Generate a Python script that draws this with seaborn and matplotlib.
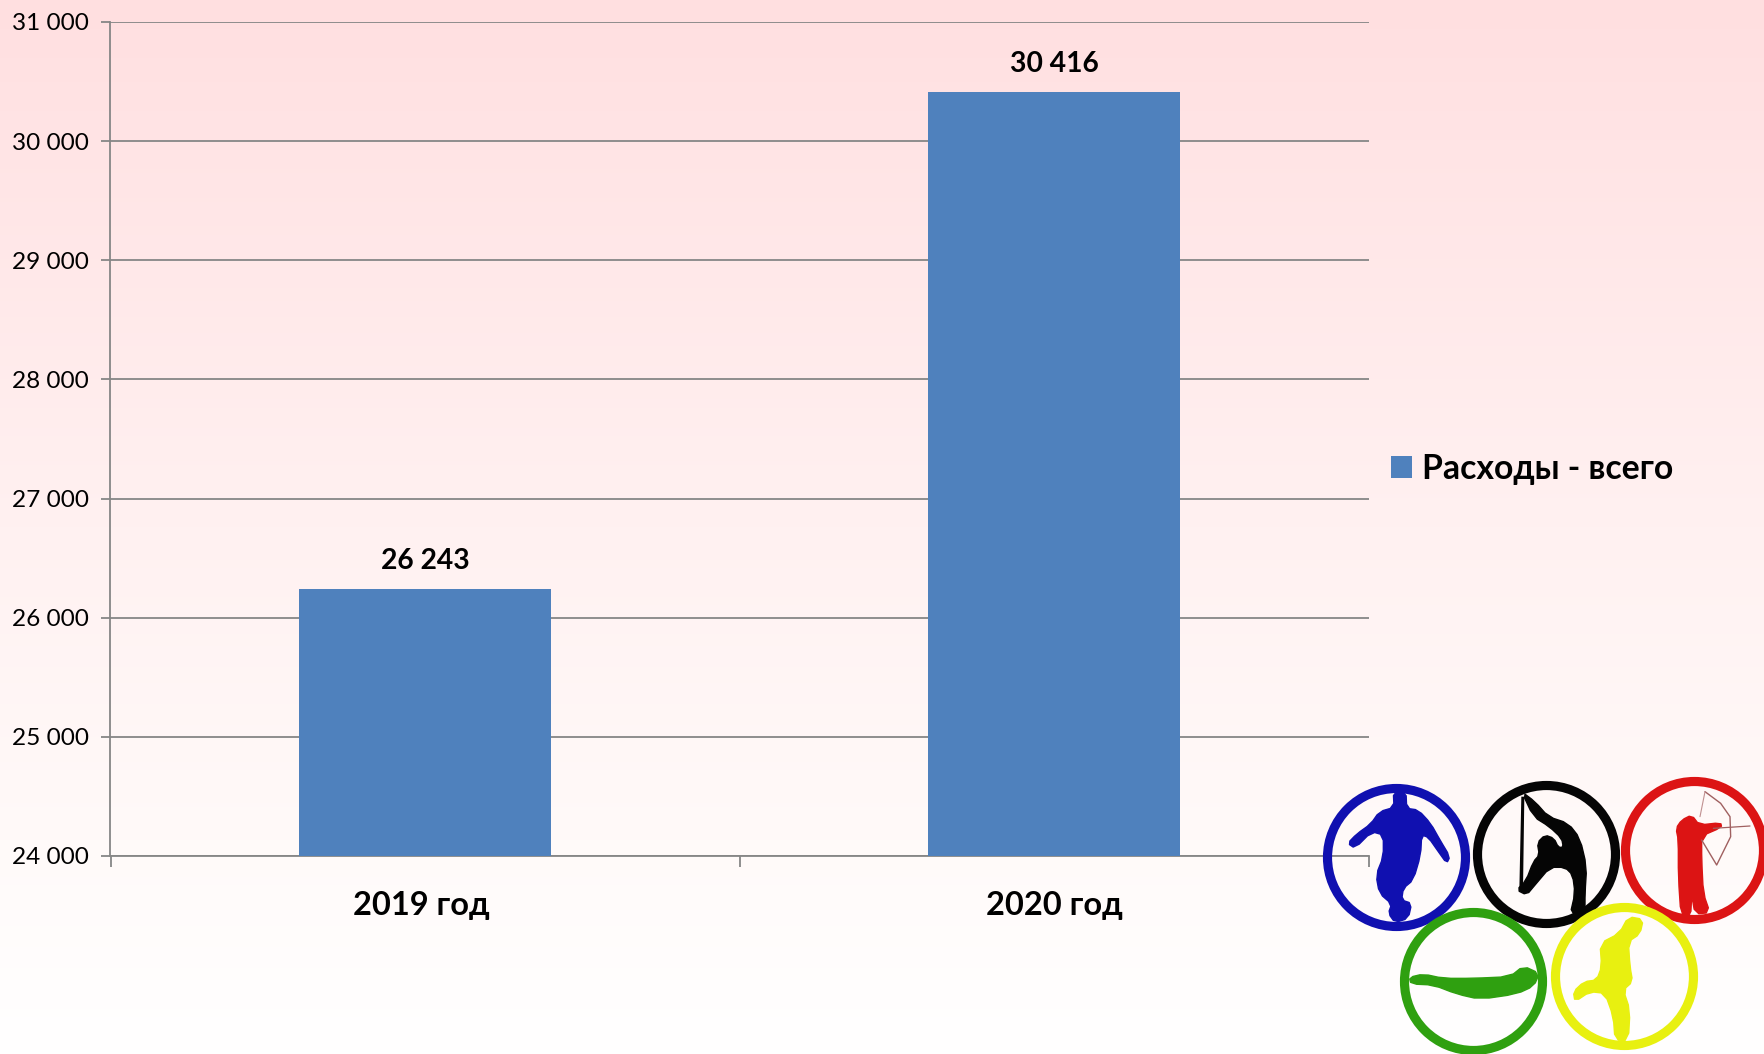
import numpy as np
import pandas as pd
import matplotlib
matplotlib.use("Agg")
import matplotlib.pyplot as plt
from matplotlib.patches import Circle, Polygon, Patch
from matplotlib.transforms import ScaledTranslation
import seaborn as sns

years = ["2019 год", "2020 год"]
expenses = [26243, 30416]
value_labels = ["26 243", "30 416"]
series_name = "Расходы - всего"
y_ticks = [24000, 25000, 26000, 27000, 28000, 29000, 30000, 31000]
y_tick_labels = ["24 000", "25 000", "26 000", "27 000", "28 000", "29 000", "30 000", "31 000"]

W, H, DPI = 1765, 1054, 100
BLUE, GREY = "#4F81BD", "#868686"
sns.set_theme(style="white")
plt.rcParams["font.family"] = ["Lato", "Open Sans", "DejaVu Sans"]

fig = plt.figure(figsize=(W / DPI, H / DPI), dpi=DPI)

# background gradient
bg = fig.add_axes([0, 0, 1, 1], zorder=0)
stops = np.array([0, .13, .5, .8, 1.0])
reds = np.array([[255, 223, 224], [255, 228, 229], [255, 241, 241], [255, 250, 249], [255, 255, 255]]) / 255
t = np.linspace(0, 1, 256)
grad = np.stack([np.interp(t, stops, reds[:, i]) for i in range(3)], axis=1)[:, None, :]
bg.imshow(grad, aspect="auto", extent=[0, W, H, 0])
bg.set_axis_off()

# chart
L, R, T, B = 110.5, 1368.5, 22, 856
ax = fig.add_axes([L / W, 1 - B / H, (R - L) / W, (B - T) / H], zorder=1)
ax.patch.set_alpha(0)
df = pd.DataFrame({"year": years, "value": expenses})
sns.barplot(data=df, x="year", y="value", color=BLUE, saturation=1, width=0.4, ax=ax, zorder=3, linewidth=0)
ax.set_xlim(-0.5, 1.5)
ax.set_ylim(24000, 31000)
ax.set_yticks(y_ticks, y_tick_labels)
ax.set_xlabel("")
ax.set_ylabel("")
ax.grid(axis="y", color=GREY, lw=1.3, zorder=1)
ax.set_axisbelow(True)
for s in ("top", "right"):
    ax.spines[s].set_visible(False)
for s in ("left", "bottom"):
    ax.spines[s].set_color(GREY)
    ax.spines[s].set_linewidth(1.3)
ax.tick_params(axis="y", left=True, length=6.5, width=1.3, color=GREY, labelsize=17.6, labelcolor="black", pad=9)
ax.set_xticks([-0.5, 0.5, 1.5], minor=True)
ax.tick_params(axis="x", which="minor", bottom=True, length=8, width=1.3, color=GREY)
ax.tick_params(axis="x", which="major", bottom=False, labelsize=23.5, labelcolor="black", pad=19.5)
for lab in ax.get_xticklabels():
    lab.set_fontweight("bold")
xl = ax.get_xticklabels()[0]
xl.set_transform(xl.get_transform() + ScaledTranslation(-4 / DPI, 0, fig.dpi_scale_trans))
for i, (v, s) in enumerate(zip(expenses, value_labels)):
    ax.annotate(s, (i, v), xytext=(0, 28 * 72 / DPI), textcoords="offset points", ha="center", va="center",
                fontsize=20.3, fontweight="bold", color="black")

# legend
leg = ax.legend(handles=[Patch(color=BLUE, label=series_name, lw=0)], loc="center left",
                bbox_to_anchor=(1391.5 / W, 1 - 469 / H), bbox_transform=fig.transFigure,
                frameon=False, prop={"size": 24.3, "weight": "bold"}, handlelength=0.6, handleheight=0.6,
                handletextpad=0.3, borderpad=0, borderaxespad=0, labelcolor="black")

# Olympic-style emblem (decoration), pixel coordinates from the reference zoom
deco = fig.add_axes([0, 0, 1, 1], zorder=2)
deco.set_xlim(0, W)
deco.set_ylim(H, 0)
deco.set_axis_off()
deco.patch.set_alpha(0)
z = lambda pts: [(1300 + x / 3, 760 + y / 3) for x, y in pts]

def smooth(pts, n=2):
    p = np.array(pts, float)
    for _ in range(n):
        q = np.roll(p, -1, axis=0)
        p = np.column_stack([0.75 * p + 0.25 * q, 0.25 * p + 0.75 * q]).reshape(-1, 2)
    return p

rings = [((1396.5, 857.5), "#1010B0"), ((1546.5, 854.5), "#050505"), ((1694.5, 850.5), "#DC1414"),
         ((1473.5, 981.5), "#2FA010"), ((1624.5, 976.5), "#E8F010")]
for c, col in rings:
    deco.add_patch(Circle(c, 69, fill=False, ec=col, lw=6.6, zorder=2))

shapes = [
    ("#1010B0", [(280,95),(318,95),(320,145),(355,150),(392,190),(420,240),(450,290),(440,310),(415,275),(385,232),(365,225),(362,285),(340,360),(310,385),(305,420),(335,430),(325,475),(285,488),(265,460),(275,432),(238,400),(228,345),(250,290),(250,225),(215,215),(165,265),(143,250),(170,222),(212,192),(238,155),(282,142)]),
    ("#050505", [(665,95),(705,125),(745,170),(805,190),(840,235),(860,320),(855,400),(855,455),(810,465),(825,400),(818,345),(795,322),(750,322),(705,375),(680,405),(650,390),(678,362),(700,305),(718,285),(712,248),(735,225),(762,235),(775,262),(790,262),(785,235),(748,200),(700,170)]),
    ("#DC1414", [(1145,180),(1175,165),(1198,195),(1262,188),(1265,202),(1205,228),(1205,300),(1210,400),(1230,458),(1185,462),(1175,405),(1172,470),(1143,470),(1135,350),(1135,240),(1128,205)]),
    ("#2FA010", [(328,652),(370,642),(430,655),(520,655),(630,650),(670,618),(718,640),(702,678),(650,702),(540,718),(470,702),(400,675),(333,672)]),
    ("#E8F010", [(985,470),(1030,478),(1020,522),(985,545),(990,620),(998,665),(970,690),(990,750),(985,842),(945,840),(940,770),(915,700),(870,695),(825,725),(820,695),(852,665),(890,660),(905,620),(900,550),(958,520)]),
]
for col, pts in shapes:
    deco.add_patch(Polygon(smooth(z(pts), 1), closed=True, fc=col, ec=col, lw=1, joinstyle="round", zorder=3))
# ribbon of the gymnast
deco.add_patch(Polygon(z([(664,110),(673,110),(669,390),(658,390)]), closed=True, fc="#050505", ec="none", zorder=3))
# bow
bow = z([(1215,95),(1262,130),(1290,170),(1292,230),(1250,315),(1205,240)])
deco.plot(*zip(*bow), color="#A06060", lw=1, zorder=3)
deco.plot(*zip(*z([(1215,95),(1200,170)])), color="#C09090", lw=0.8, zorder=3)
deco.plot(*zip(*z([(1240,205),(1350,198)])), color="#A06060", lw=0.9, zorder=3)

fig.savefig("out.png", dpi=DPI)
